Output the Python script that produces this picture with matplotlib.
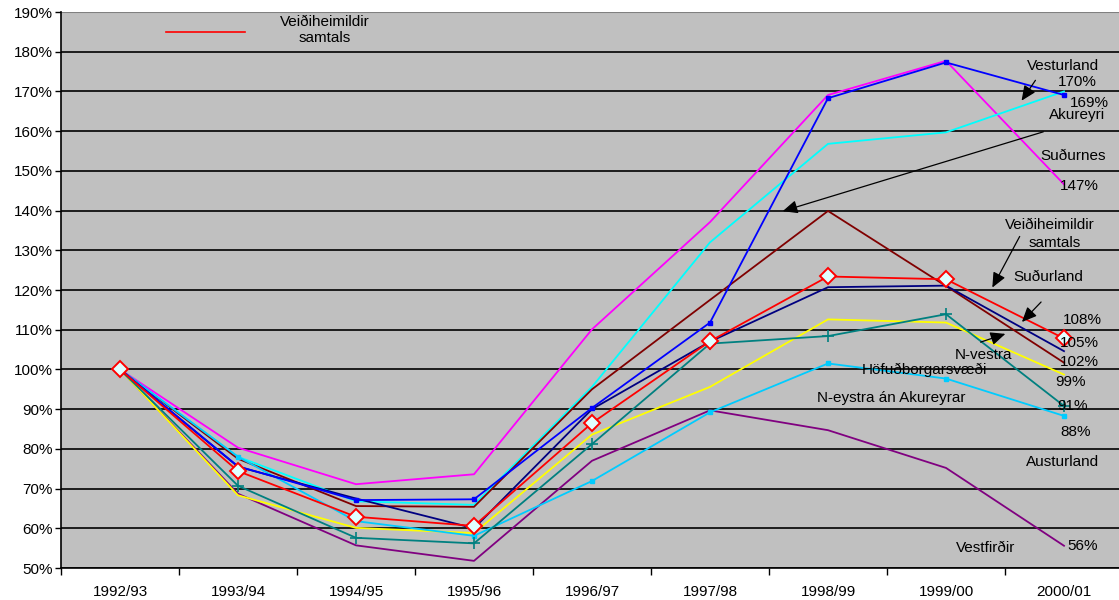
import numpy as np
import matplotlib
matplotlib.use("Agg")
import matplotlib.pyplot as plt
from matplotlib.ticker import FixedLocator, FuncFormatter

plt.rcParams["font.family"] = ["Liberation Sans", "DejaVu Sans"]

years = ["1992/93", "1993/94", "1994/95", "1995/96", "1996/97",
         "1997/98", "1998/99", "1999/00", "2000/01"]

sudurnes = [100, 80.3, 71.1, 73.6, 110.1, 137.1, 169.1, 177.7, 146.6]
vesturland = [100, 75.6, 67.1, 67.3, 90.3, 111.8, 168.3, 177.3, 169.1]
akureyri = [100, 78.0, 66.8, 65.9, 95.6, 132.0, 156.8, 159.7, 170.0]
nvestra = [100, 77.5, 65.6, 65.4, 95.0, 117.5, 139.9, 121.0, 101.7]
sudurland = [100, 75.5, 67.5, 60.0, 90.0, 107.0, 120.7, 121.1, 104.6]
hofudborg = [100, 68.3, 60.1, 58.8, 83.6, 95.6, 112.6, 111.8, 98.7]
neystra = [100, 70.7, 57.6, 56.2, 81.2, 106.5, 108.4, 113.9, 90.8]
austurland = [100, 78.0, 61.8, 58.1, 71.9, 89.2, 101.5, 97.7, 88.3]
vestfirdir = [100, 68.7, 55.7, 51.8, 77.0, 89.7, 84.7, 75.2, 55.6]
samtals = [100, 74.4, 62.9, 60.6, 86.5, 107.1, 123.4, 122.7, 107.8]

fig = plt.figure(figsize=(11.19, 6.0), dpi=100)
ax = fig.add_axes([61 / 1119, 32 / 600, 1062 / 1119, 556 / 600])
ax.set_facecolor("#C0C0C0")

x = np.arange(len(years))
lw = 1.3
ax.plot(x, sudurnes, color="#FF00FF", lw=lw)
ax.plot(x, akureyri, color="#00FFFF", lw=lw)
ax.plot(x, nvestra, color="#800000", lw=lw)
ax.plot(x, vestfirdir, color="#800080", lw=lw)
ax.plot(x, hofudborg, color="#FFFF00", lw=lw)
ax.plot(x, austurland, color="#00CCFF", lw=lw, marker="s", ms=3.5)
ax.plot(x, neystra, color="#008080", lw=lw, marker="+", ms=8, mew=1.2)
ax.plot(x, sudurland, color="#000080", lw=lw)
ax.plot(x, vesturland, color="#0000FF", lw=lw, marker="s", ms=2.5)
ax.plot(x, samtals, color="#FF0000", lw=lw, marker="D", ms=8,
        mfc="#E0FFFF", mec="#FF0000", mew=1.4)

ax.set_xlim(-0.5, 8.5)
ax.set_ylim(50, 190)
ax.yaxis.set_major_locator(FixedLocator(np.arange(50, 191, 10)))
ax.yaxis.set_major_formatter(FuncFormatter(lambda v, p: f"{v:.0f}%"))
ax.grid(axis="y", color="#000000", lw=1.2)
ax.set_axisbelow(True)
ax.set_xticks(x)
ax.set_xticklabels(years)
ax.set_xticks(np.arange(-0.5, 8.6, 1), minor=True)
ax.tick_params(axis="x", which="major", length=0, pad=12, labelsize=11)
ax.tick_params(axis="x", which="minor", length=5, width=1, direction="out")
ax.tick_params(axis="y", length=4, width=1, direction="out", labelsize=11, pad=2)
for s in ["top", "right"]:
    ax.spines[s].set_visible(False)
ax.spines["left"].set_linewidth(1.2)
ax.spines["bottom"].set_linewidth(1.2)
ax.axhline(190, color="#808080", lw=1.5)

# legend-like line at top left
fig.add_artist(plt.Line2D([166 / 1119, 245 / 1119], [1 - 32 / 600, 1 - 32 / 600],
                          color="#FF0000", lw=1.2))
fig.text(325 / 1119, 1 - 30 / 600, "Veiðiheimildir\nsamtals", ha="center",
         va="center", fontsize=11, linespacing=1.25)

def ftxt(xp, yp, s, ha="center"):
    fig.text(xp / 1119, 1 - yp / 600, s, ha=ha, va="center", fontsize=11,
             linespacing=1.2)

def farrow(x0, y0, x1, y1):
    ax.annotate("", xy=(x1 / 1119, 1 - y1 / 600), xytext=(x0 / 1119, 1 - y0 / 600),
                xycoords="figure fraction", textcoords="figure fraction",
                arrowprops=dict(arrowstyle="-|>,head_length=0.9,head_width=0.4",
                                color="black", lw=0.9))

ftxt(1063, 66, "Vesturland")
ftxt(1077, 82, "170%")
ftxt(1089, 103, "169%")
ftxt(1077, 115, "Akureyri")
ftxt(1073, 156, "Suðurnes")
ftxt(1079, 186, "147%")
ftxt(1050, 225, "Veiðiheimildir")
ftxt(1055, 243, "samtals")
ftxt(1048, 277, "Suðurland")
ftxt(1082, 320, "108%")
ftxt(1079, 343, "105%")
ftxt(1079, 362, "102%")
ftxt(1071, 382, "99%")
ftxt(1073, 406, "91%")
ftxt(1076, 432, "88%")
ftxt(984, 355, "N-vestra")
ftxt(924, 370, "Höfuðborgarsvæði")
ftxt(891, 398, "N-eystra án Akureyrar")
ftxt(1063, 462, "Austurland")
ftxt(986, 548, "Vestfirðir")
ftxt(1083, 546, "56%")

farrow(1037, 78, 1020, 103)
farrow(1046, 131, 780, 212)
farrow(1021, 234, 991, 290)
farrow(1043, 300, 1020, 324)
farrow(978, 343, 1008, 333)

fig.savefig("out.png", dpi=100)
